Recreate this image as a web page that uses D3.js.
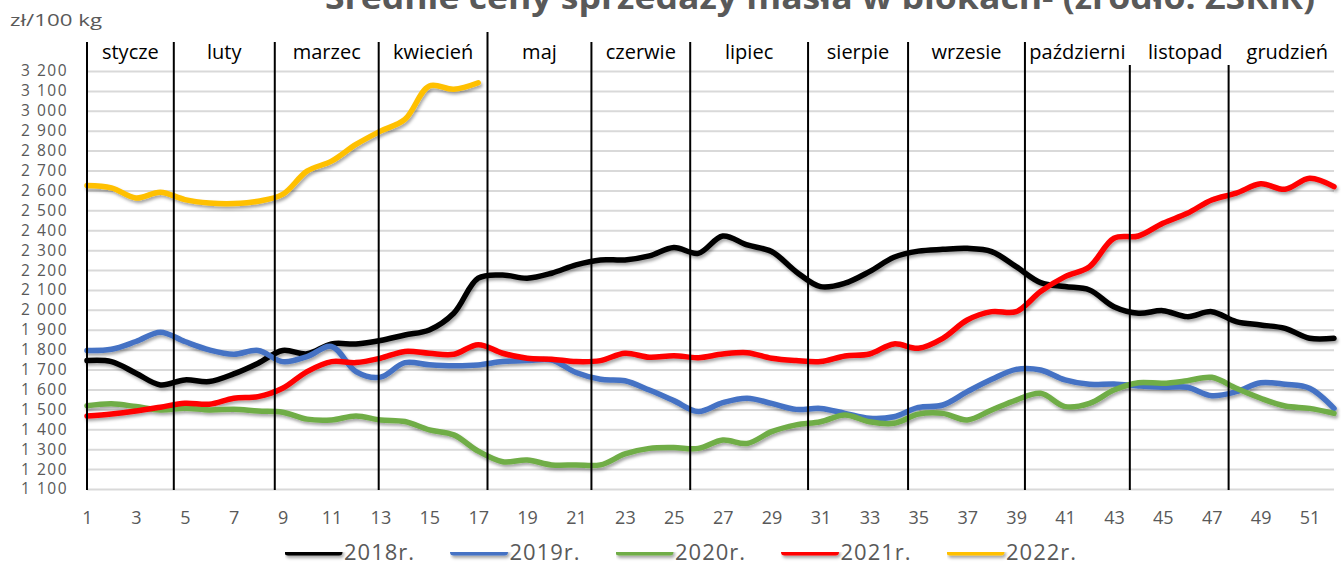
<!DOCTYPE html>
<html>
<head>
<meta charset="utf-8">
<script src="https://cdn.jsdelivr.net/npm/d3@7"></script>
<style>
    body { margin: 0; background: #fff; }
    text { font-family: "Open Sans", sans-serif; }
</style>
</head>
<body>
<svg id="chart"></svg>
<script>
// week numbers and tick labels
const weeks = d3.range(1, 53);
const xTicks = d3.range(1, 52, 2);
const yTicks = d3.range(1100, 3201, 100);

const months = ["stycze", "luty", "marzec", "kwiecień", "maj", "czerwie", "lipiec",
    "sierpie", "wrzesie", "październi", "listopad", "grudzień"];
// month borders, in weeks
const monthBounds = [4.55, 8.68, 12.93, 17.38, 21.63, 25.67, 30.49, 34.58, 39.36, 43.65, 47.69];

const seriesNames = ["2018r.", "2019r.", "2020r.", "2021r.", "2022r."];
const seriesColors = ["#000000", "#4472C4", "#70AD47", "#FF0000", "#FFC000"];

const prices2018 = [1745, 1740, 1682, 1623, 1648, 1640, 1678, 1732, 1796, 1779, 1829, 1829, 1846,
    1874, 1899, 1983, 2159, 2175, 2159, 2184, 2226, 2251, 2251, 2271, 2313, 2284, 2371, 2326,
    2293, 2192, 2117, 2134, 2192, 2264, 2295, 2304, 2309, 2293, 2217, 2137, 2117, 2100, 2016,
    1983, 1996, 1966, 1991, 1941, 1924, 1907, 1857, 1857];
const prices2019 = [1796, 1802, 1841, 1888, 1841, 1799, 1777, 1796, 1740, 1765, 1816, 1690, 1662,
    1735, 1724, 1719, 1723, 1740, 1745, 1748, 1685, 1651, 1644, 1597, 1544, 1489, 1534, 1556,
    1530, 1500, 1505, 1480, 1455, 1463, 1510, 1522, 1589, 1651, 1701, 1698, 1648, 1626, 1628,
    1618, 1611, 1611, 1569, 1589, 1634, 1626, 1606, 1505];
const prices2020 = [1518, 1528, 1514, 1497, 1506, 1497, 1501, 1492, 1486, 1451, 1447, 1467, 1447,
    1439, 1397, 1372, 1290, 1237, 1246, 1221, 1221, 1221, 1276, 1304, 1308, 1304, 1346, 1329,
    1388, 1422, 1438, 1472, 1438, 1430, 1476, 1480, 1447, 1497, 1547, 1581, 1514, 1530, 1597,
    1634, 1631, 1644, 1661, 1606, 1556, 1517, 1505, 1480];
const prices2021 = [1467, 1477, 1492, 1511, 1531, 1526, 1556, 1564, 1606, 1690, 1740, 1735, 1757,
    1791, 1782, 1777, 1825, 1782, 1757, 1752, 1740, 1745, 1782, 1762, 1770, 1760, 1778, 1785,
    1757, 1745, 1740, 1768, 1778, 1829, 1807, 1857, 1949, 1991, 1991, 2092, 2167, 2217, 2360,
    2371, 2435, 2485, 2552, 2586, 2633, 2606, 2661, 2619];
const prices2022 = [2625, 2613, 2562, 2591, 2554, 2537, 2534, 2546, 2580, 2697, 2747, 2831, 2898,
    2957, 3125, 3108, 3141];

const seriesValues = [prices2018, prices2019, prices2020, prices2021, prices2022];

const W = 1341, H = 564;
const margin = {top: 71, right: 7, bottom: 75, left: 87};

const svg = d3.select("#chart")
    .attr("width", W)
    .attr("height", H);

svg.append("rect")
    .attr("width", W)
    .attr("height", H)
    .attr("fill", "#fff");

const shadow = svg.append("defs").append("filter")
    .attr("id", "shadow")
    .attr("filterUnits", "userSpaceOnUse")
    .attr("x", 0).attr("y", 0).attr("width", W).attr("height", H);
shadow.append("feDropShadow")
    .attr("dx", 1.5).attr("dy", 2.5)
    .attr("stdDeviation", 1.6)
    .attr("flood-color", "#000")
    .attr("flood-opacity", 0.35);

const x = d3.scaleLinear()
    .domain([1, 52])
    .range([margin.left, W - margin.right]);
const y = d3.scaleLinear()
    .domain([1100, 3200])
    .range([H - margin.bottom, margin.top]);

const pl = d3.formatLocale({decimal: ",", thousands: " ", grouping: [3], currency: ["", " zł"]});
const fmt = pl.format(",");

// title, cut off at the top like in the source picture
svg.append("text")
    .attr("x", 325)
    .attr("y", 9)
    .attr("font-size", 33)
    .attr("font-weight", "bold")
    .attr("fill", "#595959")
    .attr("textLength", 990)
    .attr("lengthAdjust", "spacingAndGlyphs")
    .text("Średnie ceny sprzedaży masła w blokach- (źródło: ZSRiR)");

svg.append("text")
    .attr("x", 10)
    .attr("y", 26)
    .attr("font-size", 17)
    .attr("fill", "#595959")
    .attr("textLength", 92)
    .attr("lengthAdjust", "spacingAndGlyphs")
    .text("zł/100 kg");

// horizontal gridlines
svg.append("g")
    .attr("transform", `translate(${margin.left},0)`)
    .call(d3.axisLeft(y).tickValues(yTicks).tickSize(-(x(52) - x(1))).tickFormat(""))
    .call(g => g.select(".domain").remove())
    .call(g => g.selectAll("line").attr("stroke", "#d9d9d9").attr("stroke-width", 2));

// y labels
svg.append("g")
    .attr("transform", `translate(${margin.left},0)`)
    .call(d3.axisLeft(y).tickValues(yTicks).tickSize(0).tickPadding(19).tickFormat(fmt))
    .call(g => g.select(".domain").remove())
    .call(g => g.selectAll("text")
        .attr("font-family", "Liberation Sans, Arial, sans-serif")
        .attr("font-size", 15.5)
        .attr("letter-spacing", 1.5)
        .attr("fill", "#595959"));

// x labels
svg.append("g")
    .attr("transform", `translate(0,${H - margin.bottom})`)
    .call(d3.axisBottom(x).tickValues(xTicks).tickSize(0).tickPadding(22).tickFormat(d3.format("d")))
    .call(g => g.select(".domain").remove())
    .call(g => g.selectAll("text")
        .attr("font-family", "Open Sans")
        .attr("font-size", 18)
        .attr("fill", "#595959"));

// series lines
const line = d3.line()
    .x((d, i) => x(weeks[i]))
    .y(d => y(d))
    .curve(d3.curveCatmullRom.alpha(0.5));

svg.append("g")
    .attr("filter", "url(#shadow)")
    .selectAll("path")
    .data(seriesValues)
    .join("path")
    .attr("d", line)
    .attr("fill", "none")
    .attr("stroke", (d, i) => seriesColors[i])
    .attr("stroke-width", 5.5)
    .attr("stroke-linejoin", "round")
    .attr("stroke-linecap", "round");

// month separators drawn over the plot
const borders = [1].concat(monthBounds);
svg.append("g")
    .selectAll("line")
    .data(borders)
    .join("line")
    .attr("x1", d => x(d))
    .attr("x2", d => x(d))
    .attr("y1", (d, i) => i >= 10 ? 65 : (i === 4 ? 32 : 42))
    .attr("y2", y(1100) + 1)
    .attr("stroke", "#000")
    .attr("stroke-width", 2);

const monthEdges = [1].concat(monthBounds, [52]);
svg.append("g")
    .selectAll("text")
    .data(months)
    .join("text")
    .attr("x", (d, i) => (x(monthEdges[i]) + x(monthEdges[i + 1])) / 2 + (i >= 10 ? 6 : 0))
    .attr("y", 59)
    .attr("text-anchor", "middle")
    .attr("font-size", 20)
    .attr("fill", "#000")
    .text(d => d);

// legend
const legendX = d3.scalePoint()
    .domain(seriesNames)
    .range([285, 947]);
const legend = svg.append("g")
    .selectAll("g")
    .data(seriesNames)
    .join("g")
    .attr("transform", d => `translate(${legendX(d)},552)`);

legend.append("line")
    .attr("x1", 3).attr("x2", 54)
    .attr("stroke", (d, i) => seriesColors[i])
    .attr("stroke-width", 7)
    .attr("stroke-linecap", "round")
    .attr("filter", "url(#shadow)");

legend.append("text")
    .attr("x", 59)
    .attr("y", 7.5)
    .attr("font-family", "Liberation Sans, Arial, sans-serif")
    .attr("font-size", 22)
    .attr("letter-spacing", 1)
    .attr("fill", "#595959")
    .text(d => d);
</script>
</body>
</html>
